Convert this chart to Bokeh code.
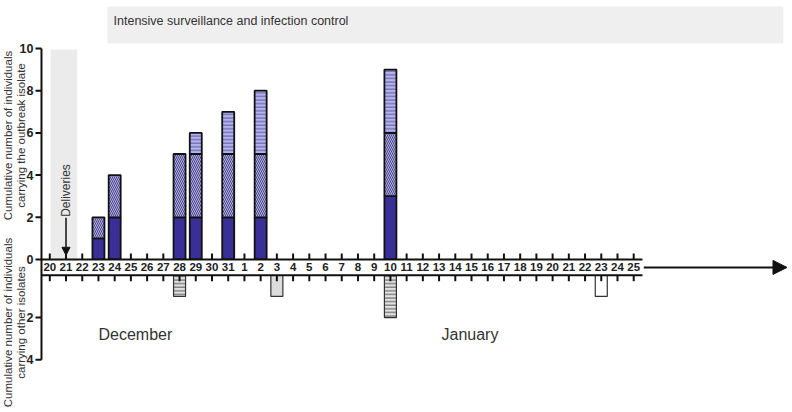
import numpy as np
from bokeh.plotting import figure
from bokeh.models import Range1d, Arrow, NormalHead
from bokeh.core.properties import value
from bokeh.embed import file_html
from bokeh.resources import INLINE

# ---------------- data ----------------
dec_days = list(range(20, 32))
jan_days = list(range(1, 26))
day_labels = [str(d) for d in dec_days] + [str(d) for d in jan_days]
day_keys = [f"Dec {d}" for d in dec_days] + [f"Jan {d}" for d in jan_days]

outbreak_dates = ["Dec 23", "Dec 24", "Dec 28", "Dec 29", "Dec 31", "Jan 2", "Jan 10"]
outbreak_solid = [1, 2, 2, 2, 2, 2, 3]
outbreak_diag = [1, 2, 3, 3, 3, 3, 3]
outbreak_horiz = [0, 0, 0, 1, 2, 3, 3]

other_dates = ["Dec 28", "Jan 3", "Jan 10", "Jan 23"]
other_counts = [1, 1, 2, 1]
other_kind = ["hatched", "grey", "hatched", "white"]

upper_ticks = [0, 2, 4, 6, 8, 10]
lower_ticks = [2, 4]
months = ["December", "January"]

# ---------------- layout constants ----------------
GAP = 0.75          # height of the date band (in y units)
W = 0.74            # bar width (days)
FONT = "Liberation Sans"
AX = -0.512         # x position of the y axis (days)
DX = 1 / 16.22      # one pixel in x units
DY = 1 / 21.1       # one pixel in y units

pos = {k: i for i, k in enumerate(day_keys)}
xi = np.arange(len(day_keys))

p = figure(width=792, height=412, output_backend="svg", toolbar_location=None,
           x_range=Range1d(-3.039, 45.79), y_range=Range1d(-7.251, 12.275),
           x_axis_location=None, y_axis_location=None,
           min_border=0, min_border_left=0, min_border_right=0,
           min_border_top=0, min_border_bottom=0)
p.grid.visible = False
p.outline_line_color = None
p.background_fill_color = "white"
p.border_fill_color = "white"

# shaded regions
p.quad(left=[3.557], right=[45.22], bottom=[10.237], top=[11.99],
       fill_color="#efefef", line_color=None)
p.text(x=[3.93], y=[11.28], text=["Intensive surveillance and infection control"],
       text_font=value(FONT), text_font_size="12.5px", text_color="#333",
       text_align="left", text_baseline="middle")
p.quad(left=[0.05], right=[1.69], bottom=[0], top=[9.95],
       fill_color="#ebebeb", line_color=None)

# upper ticks (behind bars)
p.segment(x0=xi, x1=xi, y0=np.zeros(len(xi)), y1=np.full(len(xi), 0.28),
          line_color="#111", line_width=2)

# outbreak stacked bars
xb = np.array([pos[d] for d in outbreak_dates], dtype=float)
s = np.array(outbreak_solid, dtype=float)
dg = np.array(outbreak_diag, dtype=float)
hz = np.array(outbreak_horiz, dtype=float)

p.vbar(x=xb, width=W, bottom=np.zeros_like(s), top=s,
       fill_color="#392f96", line_color="#111", line_width=1.8)
m = dg > 0
p.vbar(x=xb[m], width=W, bottom=s[m], top=(s + dg)[m],
       fill_color="#b3b0da", line_color="#111", line_width=1.8,
       hatch_pattern="\\", hatch_color="#4a4490", hatch_scale=4, hatch_weight=1)
m = hz > 0
p.vbar(x=xb[m], width=W, bottom=(s + dg)[m], top=(s + dg + hz)[m],
       fill_color="#b4b4ec", line_color="#111", line_width=1.8,
       hatch_pattern="-", hatch_color="#5a559f", hatch_scale=3.6, hatch_weight=1)

# other isolates (downwards)
xo = np.array([pos[d] for d in other_dates], dtype=float)
co = np.array(other_counts, dtype=float)
kinds = np.array(other_kind)
for kind, fc, hp in [("hatched", "#e2e2e2", "-"), ("grey", "#dcdcdc", None), ("white", "white", None)]:
    m = kinds == kind
    if not m.any():
        continue
    kw = dict(hatch_pattern=hp, hatch_color="#555", hatch_scale=3.6, hatch_weight=1) if hp else {}
    p.vbar(x=xo[m], width=W, top=np.full(m.sum(), -GAP), bottom=-GAP - co[m],
           fill_color=fc, line_color="#333", line_width=1.2, **kw)

# date band
band_r = 36.54
p.quad(left=[AX], right=[band_r], bottom=[-GAP], top=[0], fill_color="white", line_color=None)
p.segment(x0=[AX, AX], x1=[band_r, band_r], y0=[0, -GAP], y1=[0, -GAP],
          line_color="#111", line_width=2)
p.segment(x0=xi, x1=xi, y0=np.full(len(xi), -GAP), y1=np.full(len(xi), -GAP - 0.28),
          line_color="#111", line_width=2)
p.text(x=xi, y=np.full(len(xi), -GAP / 2), text=day_labels,
       text_font=value(FONT), text_font_style="bold", text_font_size="11.5px",
       text_color="#222", text_align="center", text_baseline="middle")

# y axis (upper values upwards from 0, lower values downwards below the band)
ytick_pos = [float(t) for t in upper_ticks] + [-GAP - t for t in lower_ticks]
ytick_lab = [str(t) for t in upper_ticks] + [str(t) for t in lower_ticks]
p.segment(x0=[AX], x1=[AX], y0=[-GAP - max(lower_ticks)], y1=[max(upper_ticks)],
          line_color="#111", line_width=2)
p.segment(x0=np.full(len(ytick_pos), AX - 6 * DX), x1=np.full(len(ytick_pos), AX),
          y0=ytick_pos, y1=ytick_pos, line_color="#111", line_width=2)
p.text(x=np.full(len(ytick_pos), AX - 8 * DX), y=ytick_pos, text=ytick_lab,
       text_font=value(FONT), text_font_style="bold", text_font_size="12.5px",
       text_color="#222", text_align="right", text_baseline="middle")

# time arrow
p.add_layout(Arrow(end=NormalHead(size=14, fill_color="#111", line_color="#111"),
                   x_start=36.62, y_start=-GAP / 2, x_end=45.45, y_end=-GAP / 2,
                   line_color="#111", line_width=2))

# deliveries arrow
p.add_layout(Arrow(end=NormalHead(size=8, fill_color="#111", line_color="#111"),
                   x_start=1.0, y_start=1.98, x_end=1.0, y_end=0.2,
                   line_color="#111", line_width=1.5))
p.text(x=[1.0], y=[3.27], text=["Deliveries"], angle=np.pi / 2,
       text_font=value(FONT), text_font_size="12px", text_color="#333",
       text_align="center", text_baseline="middle")

# month labels
p.text(x=[3.0, 24.15], y=[-3.55, -3.55], text=months,
       text_font=value(FONT), text_font_size="16px", text_color="#333",
       text_align="left", text_baseline="middle")

# y axis titles
xt1 = (7.5 - 49.3) * DX
xt2 = (20.5 - 49.3) * DX
yu = (259 - 135) * DY
yl = -(322 - 259) * DY
p.text(x=[xt1, xt2, xt1, xt2], y=[yu, yu, yl, yl],
       text=["Cumulative number of individuals", "carrying the outbreak isolate",
             "Cumulative number of individuals", "carrying other isolates"],
       angle=np.pi / 2, text_font=value(FONT), text_font_size="11.5px", text_color="#333",
       text_align="center", text_baseline="middle")

open("out.html", "w").write(file_html(p, INLINE))
